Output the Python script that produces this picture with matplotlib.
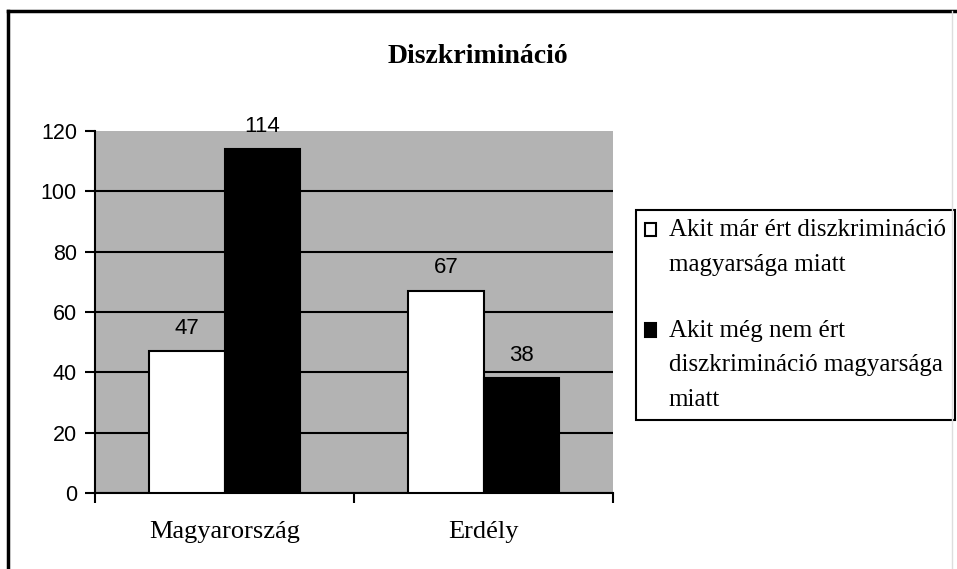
import matplotlib

matplotlib.use("Agg")
from matplotlib import pyplot as plt
from matplotlib.legend_handler import HandlerPatch
from matplotlib.lines import Line2D
from matplotlib.patches import Rectangle
import numpy as np

categories = ["Magyarország", "Erdély"]
series_names = [
    "Akit már ért diszkrimináció\nmagyarsága miatt",
    "Akit még nem ért\ndiszkrimináció magyarsága\nmiatt",
]
already = [47, 67]
not_yet = [114, 38]
y_ticks = [0, 20, 40, 60, 80, 100, 120]
title = "Diszkrimináció"

serif = "Liberation Serif"
sans = "Liberation Sans"

LEG_SIZE = 18
LEG_LINESPACING = 1.75
LINE_STEP_PT = 25.0  # distance between legend text lines, in points


def top_aligned_handler(n_lines):
    # put the square next to the first line of a multi-line label
    shift = (n_lines - 1) / 2 * LINE_STEP_PT

    def make_patch(legend, orig_handle, xdescent, ydescent, width, height, fontsize):
        return Rectangle((-xdescent, -ydescent + shift), width, height)

    return HandlerPatch(patch_func=make_patch)


fig = plt.figure(figsize=(9.57, 5.69), dpi=100)
ax = fig.add_axes([0.0993, 0.1336, 0.5413, 0.6362])
ax.set_facecolor("#b3b3b3")

x = np.arange(len(categories))
width = 0.29
bars_a = ax.bar(x - width / 2, already, width, color="white", edgecolor="black",
                linewidth=1.5, zorder=3)
bars_b = ax.bar(x + width / 2, not_yet, width, color="black", edgecolor="black",
                linewidth=1.5, zorder=3)

for bars, values in ((bars_a, already), (bars_b, not_yet)):
    for bar, value in zip(bars, values):
        ax.annotate(str(value), (bar.get_x() + bar.get_width() / 2, value),
                    xytext=(0, 9), textcoords="offset points", ha="center", va="bottom",
                    fontsize=16, family=sans)

ax.set_xlim(-0.5, len(categories) - 0.5)
ax.set_ylim(0, 120)
ax.set_yticks(y_ticks)
ax.set_yticklabels([str(v) for v in y_ticks], family=sans, fontsize=15.5)
ax.set_xticks(np.arange(len(categories) + 1) - 0.5)
ax.set_xticklabels([])
ax.set_xticks(x, minor=True)
ax.set_xticklabels(categories, minor=True, family=serif, fontsize=19)
ax.tick_params(axis="x", which="minor", length=0, pad=20)
ax.tick_params(axis="x", which="major", length=7, width=1.5, direction="out")
ax.tick_params(axis="y", length=7, width=1.5, direction="out", pad=6)

ax.yaxis.grid(True, color="black", linewidth=1.5, zorder=1)
ax.get_ygridlines()[-1].set_visible(False)
ax.set_axisbelow(True)
for side in ("top", "right"):
    ax.spines[side].set_visible(False)
for side in ("left", "bottom"):
    ax.spines[side].set_linewidth(1.5)

fig.text(0.4995, 0.90, title, ha="center", va="center", family=serif,
         fontsize=20, fontweight="bold")

handles = [bars_a.patches[0], bars_b.patches[0]]
handler_map = {h: top_aligned_handler(name.count("\n") + 1)
               for h, name in zip(handles, series_names)}
leg = ax.legend(handles, series_names, handler_map=handler_map,
                loc="upper left", bbox_to_anchor=(0.6646, 1 - 210 / 569),
                bbox_transform=fig.transFigure, borderaxespad=0, fancybox=False,
                edgecolor="black", framealpha=1, prop={"family": serif, "size": LEG_SIZE},
                handlelength=0.45, handleheight=0.45, handletextpad=0.5,
                labelspacing=1.75, borderpad=0.36)
leg.get_frame().set_linewidth(1.5)
for txt in leg.get_texts():
    txt.set_linespacing(LEG_LINESPACING)

# outer chart border
fig.add_artist(Line2D([8 / 957, 8 / 957], [0, 1 - 11 / 569], transform=fig.transFigure,
                      color="black", linewidth=2.5))
fig.add_artist(Line2D([8 / 957, 1], [1 - 11 / 569, 1 - 11 / 569], transform=fig.transFigure,
                      color="black", linewidth=2.5))
fig.add_artist(Line2D([952 / 957, 952 / 957], [0, 1 - 11 / 569], transform=fig.transFigure,
                      color="#dddddd", linewidth=1))

fig.savefig("out.png", dpi=100)
plt.close(fig)
